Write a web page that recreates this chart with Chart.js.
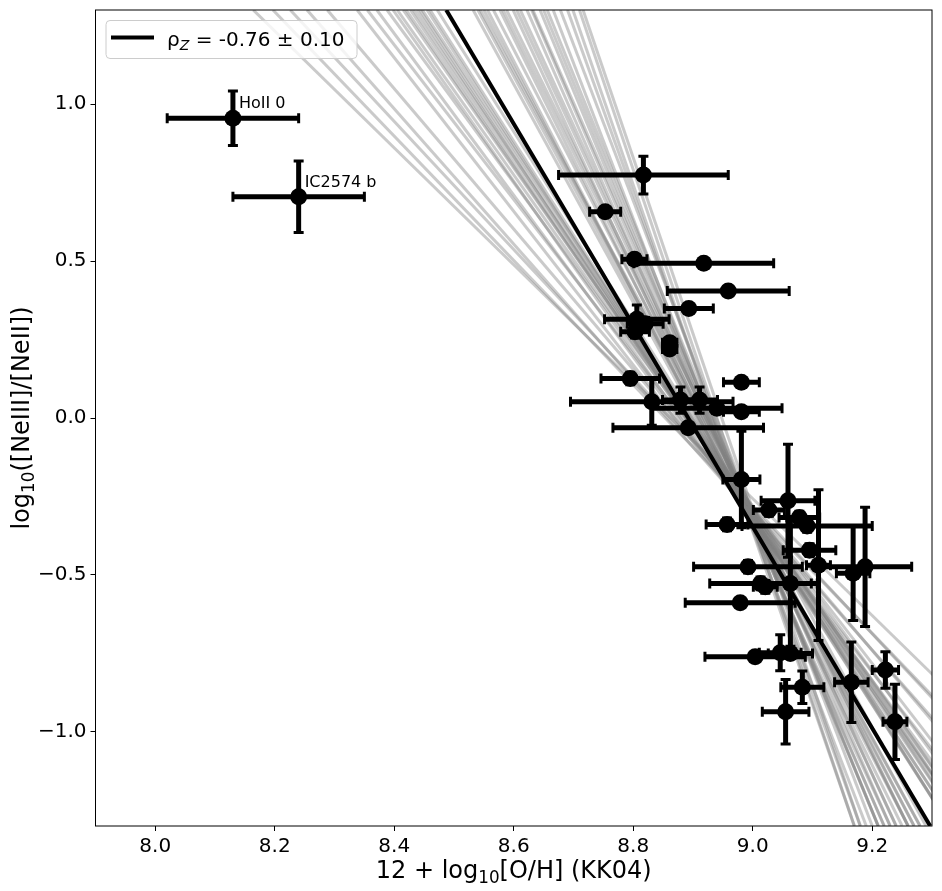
<!DOCTYPE html>
<html lang="en">
<head>
<meta charset="UTF-8">
<title>[NeIII]/[NeII] vs metallicity</title>
<script src="https://cdn.jsdelivr.net/npm/chart.js"></script>
<style>
  body { margin: 0; background: #fff; }
  #wrap { width: 942px; height: 891px; position: relative; }
</style>
</head>
<body>
<div id="wrap"><canvas id="neChart"></canvas></div>
<script>
// metallicity 12 + log(O/H) (KK04) and its error
const metal = [8.13, 8.24, 8.817, 8.753, 8.802, 8.918, 8.959, 8.893, 8.806, 8.82, 8.803,
  8.861, 8.861, 8.795, 8.981, 8.831, 8.879, 8.911, 8.94, 8.981, 8.892, 8.981, 9.059,
  9.027, 9.078, 9.091, 8.957, 9.095, 9.11, 8.992, 9.168, 9.188, 9.013, 9.021, 9.063,
  8.979, 9.004, 9.046, 9.063, 9.083, 9.055, 9.165, 9.222, 9.238];
const metalErr = [0.11, 0.11, 0.142, 0.026, 0.021, 0.117, 0.102, 0.041, 0.054, 0.03, 0.024,
  0.012, 0.012, 0.049, 0.03, 0.136, 0.03, 0.03, 0.109, 0.03, 0.126, 0.031, 0.045,
  0.026, 0.034, 0.109, 0.035, 0.044, 0.02, 0.091, 0.028, 0.078, 0.085, 0.02, 0.045,
  0.092, 0.084, 0.035, 0.037, 0.036, 0.039, 0.028, 0.022, 0.02];
// log([NeIII]/[NeII]) and its error
const ratio = [0.955, 0.705, 0.774, 0.657, 0.506, 0.493, 0.405, 0.349, 0.315, 0.30, 0.275,
  0.24, 0.22, 0.126, 0.114, 0.052, 0.057, 0.057, 0.031, 0.02, -0.031, -0.196, -0.264,
  -0.293, -0.317, -0.344, -0.339, -0.421, -0.469, -0.474, -0.495, -0.474, -0.527, -0.538, -0.527,
  -0.589, -0.761, -0.748, -0.75, -0.858, -0.936, -0.842, -0.803, -0.968];
const ratioErr = [0.087, 0.114, 0.06, 0.015, 0.015, 0.015, 0.015, 0.015, 0.045, 0.02, 0.02,
  0.015, 0.015, 0.02, 0.015, 0.075, 0.042, 0.042, 0.015, 0.015, 0.015, 0.154, 0.18,
  0.02, 0.02, 0.02, 0.02, 0.02, 0.24, 0.02, 0.15, 0.19, 0.02, 0.02, 0.2,
  0.015, 0.015, 0.057, 0.015, 0.052, 0.103, 0.128, 0.058, 0.12];
const pointNames = ['HoII 0', 'IC2574 b'];

// bootstrap fits: x where each line crosses y = 1.3 and y = -1.3
const bootTopX = [8.164, 8.197, 8.226, 8.254, 8.288, 8.338, 8.355, 8.371, 8.388, 8.398, 8.415,
  8.427, 8.432, 8.438, 8.447, 8.455, 8.472, 8.532, 8.544, 8.556, 8.566, 8.577, 8.588,
  8.599, 8.611, 8.622, 8.632, 8.644, 8.656, 8.666, 8.678, 8.699, 8.716,
  8.405, 8.420, 8.443, 8.460, 8.540, 8.550, 8.582, 8.605, 8.630, 8.650, 8.690, 8.710];
const bootBotX = [9.56, 9.51, 9.50, 9.46, 9.45, 9.40, 9.41, 9.38, 9.39, 9.36, 9.37,
  9.35, 9.36, 9.34, 9.35, 9.33, 9.33, 9.28, 9.29, 9.26, 9.27, 9.25, 9.26,
  9.23, 9.24, 9.22, 9.23, 9.21, 9.21, 9.19, 9.20, 9.17, 9.18,
  9.37, 9.36, 9.34, 9.33, 9.28, 9.27, 9.26, 9.24, 9.22, 9.21, 9.18, 9.17];
// best fit
const fitX = [8.487, 9.297];
const fitY = [1.3, -1.3];

const xTicks = [8.0, 8.2, 8.4, 8.6, 8.8, 9.0, 9.2];
const yTicks = [-1.0, -0.5, 0.0, 0.5, 1.0];

const FONT = 'DejaVu Sans';
const pointSetIndex = bootTopX.length + 1;

function fmt(v) {
    return (v < 0 ? '\u2212' : '') + Math.abs(v).toFixed(1);
}

// text with subscripts: parts = [[text, isSub, italic], ...]
function drawRich(ctx, parts, x, y, size, align) {
    let w = 0;
    parts.forEach(p => {
        ctx.font = (p[2] ? 'italic ' : '') + (p[1] ? size * 0.7 : size) + 'px "' + FONT + '"';
        w += ctx.measureText(p[0]).width;
    });
    let cx = align === 'center' ? x - w / 2 : x;
    ctx.textAlign = 'left';
    ctx.textBaseline = 'alphabetic';
    parts.forEach(p => {
        ctx.font = (p[2] ? 'italic ' : '') + (p[1] ? size * 0.7 : size) + 'px "' + FONT + '"';
        ctx.fillText(p[0], cx, y + (p[1] ? size * 0.22 : 0));
        cx += ctx.measureText(p[0]).width;
    });
}

const extras = {
    id: 'extras',
    beforeDatasetDraw(chart, args) {
        if (args.index !== pointSetIndex) return;
        const ctx = chart.ctx, xs = chart.scales.x, ys = chart.scales.y, a = chart.chartArea;
        ctx.save();
        ctx.beginPath();
        ctx.rect(a.left, a.top, a.right - a.left, a.bottom - a.top);
        ctx.clip();
        ctx.strokeStyle = '#000';
        for (let i = 0; i < metal.length; i++) {
            const px = xs.getPixelForValue(metal[i]), py = ys.getPixelForValue(ratio[i]);
            const x0 = xs.getPixelForValue(metal[i] - metalErr[i]), x1 = xs.getPixelForValue(metal[i] + metalErr[i]);
            const y0 = ys.getPixelForValue(ratio[i] - ratioErr[i]), y1 = ys.getPixelForValue(ratio[i] + ratioErr[i]);
            ctx.lineWidth = 5;
            ctx.beginPath();
            ctx.moveTo(x0, py); ctx.lineTo(x1, py);
            ctx.moveTo(px, y0); ctx.lineTo(px, y1);
            ctx.stroke();
            ctx.lineWidth = 3;
            ctx.beginPath();
            ctx.moveTo(x0, py - 5); ctx.lineTo(x0, py + 5);
            ctx.moveTo(x1, py - 5); ctx.lineTo(x1, py + 5);
            ctx.moveTo(px - 5, y0); ctx.lineTo(px + 5, y0);
            ctx.moveTo(px - 5, y1); ctx.lineTo(px + 5, y1);
            ctx.stroke();
        }
        ctx.restore();
    },
    afterDatasetsDraw(chart) {
        const ctx = chart.ctx, xs = chart.scales.x, ys = chart.scales.y, a = chart.chartArea;
        ctx.save();
        ctx.fillStyle = '#000';

        // point names
        pointNames.forEach((n, i) => {
            ctx.font = '16px "' + FONT + '"';
            ctx.textAlign = 'left';
            ctx.textBaseline = 'alphabetic';
            ctx.fillText(n, xs.getPixelForValue(metal[i]) + 6, ys.getPixelForValue(ratio[i]) - 10);
        });

        // legend
        const lx = a.left + 10.5, ly = a.top + 10.5, lw = 251, lh = 38;
        ctx.beginPath();
        ctx.roundRect(lx, ly, lw, lh, 4);
        ctx.fillStyle = 'rgba(255,255,255,0.8)';
        ctx.fill();
        ctx.strokeStyle = '#cccccc';
        ctx.lineWidth = 1;
        ctx.stroke();
        ctx.strokeStyle = '#000';
        ctx.lineWidth = 4;
        ctx.beginPath();
        ctx.moveTo(lx + 5, ly + 17); ctx.lineTo(lx + 48, ly + 17);
        ctx.stroke();
        ctx.fillStyle = '#000';
        drawRich(ctx, [['\u03c1', false], ['Z', true, true], [' = -0.76 \u00b1 0.10', false]], lx + 61, ly + 25, 20, 'left');

        // frame
        ctx.strokeStyle = '#000';
        ctx.lineWidth = 1;
        ctx.strokeRect(a.left, a.top, a.right - a.left, a.bottom - a.top);

        // axis titles
        drawRich(ctx, [['12 + log', false], ['10', true], ['[O/H] (KK04)', false]], (a.left + a.right) / 2, 878, 24, 'center');
        ctx.translate(29, (a.top + a.bottom) / 2);
        ctx.rotate(-Math.PI / 2);
        drawRich(ctx, [['log', false], ['10', true], ['([NeIII]/[NeII])', false]], 0, 0, 24, 'center');
        ctx.restore();
    }
};

// Chart.js paints higher "order" values underneath
const datasets = [];
bootTopX.forEach((t, i) => {
    datasets.push({
        type: 'line',
        data: [{ x: t, y: 1.3 }, { x: bootBotX[i], y: -1.3 }],
        borderColor: 'rgba(128,128,128,0.42)',
        borderWidth: 3,
        pointRadius: 0,
        fill: false,
        clip: 0,
        order: 3
    });
});
datasets.push({
    type: 'line',
    data: fitX.map((x, i) => ({ x: x, y: fitY[i] })),
    borderColor: '#000',
    borderWidth: 4,
    pointRadius: 0,
    fill: false,
    clip: 0,
    order: 2
});
datasets.push({
    type: 'scatter',
    data: metal.map((x, i) => ({ x: x, y: ratio[i] })),
    backgroundColor: '#000',
    borderWidth: 0,
    pointRadius: 8.5,
    clip: 0,
    order: 1
});

new Chart(document.getElementById('neChart'), {
    type: 'scatter',
    data: { datasets: datasets },
    options: {
        responsive: true,
        maintainAspectRatio: false,
        animation: false,
        layout: { padding: { top: 10, right: 10, left: 0, bottom: 0 } },
        plugins: { legend: { display: false }, tooltip: { enabled: false } },
        scales: {
            x: {
                type: 'linear', min: 7.9, max: 9.3,
                afterBuildTicks: s => { s.ticks = xTicks.map(v => ({ value: v })); },
                afterFit: s => { s.height = 65; s.paddingLeft = 0; s.paddingRight = 0; },
                ticks: { callback: fmt, color: '#000', padding: 4, maxRotation: 0, autoSkip: false,
                    font: { family: FONT, size: 20 } },
                grid: { display: true, drawOnChartArea: false, tickLength: 5, color: '#000' },
                border: { display: false }
            },
            y: {
                type: 'linear', min: -1.3, max: 1.3,
                afterBuildTicks: s => { s.ticks = yTicks.map(v => ({ value: v })); },
                afterFit: s => { s.width = 95.5; s.paddingTop = 0; s.paddingBottom = 0; },
                ticks: { callback: fmt, color: '#000', padding: 4, autoSkip: false,
                    font: { family: FONT, size: 20 } },
                grid: { display: true, drawOnChartArea: false, tickLength: 5, color: '#000' },
                border: { display: false }
            }
        }
    },
    plugins: [extras]
});
</script>
</body>
</html>
